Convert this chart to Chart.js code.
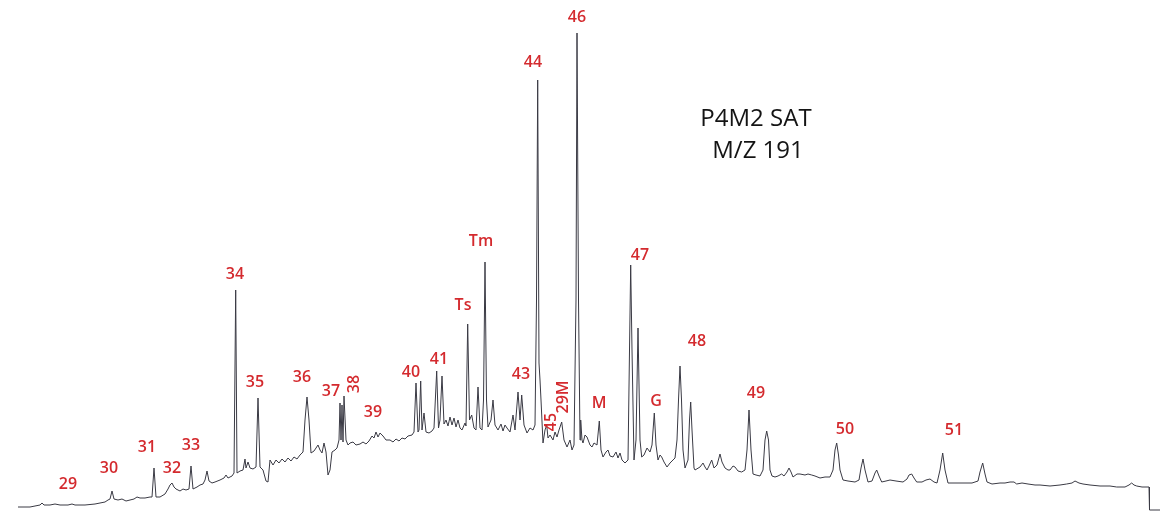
<!DOCTYPE html>
<html lang="en">
<head>
    <meta charset="UTF-8">
    <title>P4M2 SAT - M/Z 191</title>
    <script src="https://cdn.jsdelivr.net/npm/chart.js"></script>
    <style>
        body { margin: 0; background: #fff; }
        #wrap { width: 1165px; height: 512px; }
    </style>
</head>
<body>
    <div id="wrap">
        <canvas id="chrom" width="1165" height="512"></canvas>
    </div>

    <script>
        // Trace: retention position and detector response
        const retention = [
            18, 30, 40, 42, 44, 50, 55, 60, 68, 72, 75, 85, 95, 100, 105, 108, 110, 112, 114, 118,
            122, 126, 130, 134, 137, 140, 145, 150, 152, 154, 156, 160, 165, 168, 170, 172, 174, 176, 178, 180,
            183, 186, 189, 191, 193, 197, 200, 203, 205, 207, 209, 212, 215, 220, 224, 226, 228, 232, 234, 235.7,
            237, 240, 243, 245, 246, 248, 250, 253, 256, 258, 260, 263, 266, 268, 270, 273, 276, 279, 282, 285,
            288, 291, 294, 297, 300, 303, 305, 307, 309, 311, 314, 316, 318, 320, 322, 324, 326, 328, 330, 332,
            335, 337, 339, 340, 341, 342, 343, 344, 346, 348, 350, 353, 356, 360, 363, 366, 369, 372, 374, 376,
            378, 380, 383, 386, 390, 393, 396, 399, 402, 405, 408, 412, 414, 416, 418, 419, 420.7, 422, 424, 426,
            429, 432, 434, 436.7, 438.5, 440, 442, 444, 446, 448, 450, 452, 454, 456, 458, 460, 462, 465, 466, 467.7,
            469.5, 471.7, 474, 476, 478, 480, 482, 483.5, 485, 486.5, 488, 491, 493, 495, 498, 501, 503, 505, 507, 510,
            513, 515, 518, 520, 521.7, 524, 527, 530, 533, 535, 536.5, 537.7, 539, 540, 541, 543, 545, 546.7, 548, 550,
            553, 555, 557, 559, 561.7, 564, 567, 570, 572, 574, 576, 577, 578.5, 580, 580.7, 582, 583, 585, 587, 590,
            592, 594, 597, 599.3, 601, 603, 606, 608, 610, 613, 616, 618, 620, 622, 625, 628, 629.5, 630.7, 632, 634,
            636, 638, 640, 641.7, 644, 647, 650, 652, 654.3, 656, 658, 660, 661.7, 664, 667, 670, 673, 675, 677, 678.5,
            680, 681.5, 683, 685, 688, 689.5, 690.7, 692, 694, 695, 700, 703, 705, 707, 709, 711.7, 714, 717, 720, 722,
            725, 728, 730, 733, 735, 738, 741.7, 745, 747, 749, 751, 753, 756, 760, 763, 765, 766.7, 768.5, 770, 772,
            775, 778, 781.7, 784, 787, 789, 791, 793, 797, 800, 805, 808, 811.7, 815, 820, 825, 830, 833, 835, 836.7,
            838.5, 840, 843, 848, 855, 859, 861, 863, 865, 868, 872, 875, 876.7, 879, 881.7, 886, 890, 896, 903, 907,
            909, 911.7, 914, 916.7, 922, 926, 930, 934, 937, 940, 942.7, 945, 948, 955, 965, 972, 978, 980, 982.7, 985,
            987, 992, 1000, 1005, 1010, 1014, 1016.7, 1022, 1028, 1035, 1040, 1050, 1060, 1066.7, 1072, 1075, 1079, 1083, 1090, 1100,
            1110, 1116.7, 1125, 1129, 1131.7, 1134, 1136.7, 1142, 1149, 1149.5, 1160
        ];
        const response = [
            5, 5, 7, 9, 7, 7, 8, 7, 7, 8, 7, 7, 8, 9, 10, 12, 13, 21, 13, 12,
            13, 11, 12, 13, 15, 14, 14, 15, 15, 44, 15, 15, 18, 23, 27, 29, 25, 23, 22, 21,
            23, 22, 23, 46, 23, 25, 27, 28, 32, 41, 31, 29, 30, 32, 34, 37, 34, 36, 39, 222,
            39, 41, 42, 53, 44, 50, 44, 43, 45, 114, 45, 42, 31, 30, 52, 47, 52, 49, 53, 50,
            54, 51, 55, 53, 57, 60, 92, 115, 92, 59, 61, 64, 67, 62, 59, 69, 60, 37, 42, 60,
            62, 64, 72, 109, 72, 107, 70, 116, 72, 67, 69, 70, 67, 68, 70, 68, 71, 76, 74, 80,
            75, 79, 76, 72, 72, 70, 73, 71, 74, 73, 76, 77, 80, 129, 80, 82, 131, 82, 99, 80,
            79, 81, 84, 141, 84, 92, 136, 88, 92, 86, 95, 87, 94, 85, 92, 84, 82, 89, 86, 188,
            92, 97, 84, 82, 125, 84, 82, 112, 250, 112, 85, 92, 112, 87, 82, 88, 81, 87, 84, 80,
            97, 82, 120, 92, 117, 87, 79, 84, 82, 87, 212, 432, 149, 132, 112, 69, 82, 87, 74, 77,
            72, 80, 75, 82, 90, 72, 65, 72, 62, 67, 212, 479, 212, 72, 92, 72, 69, 77, 75, 67,
            65, 69, 67, 91, 62, 55, 60, 62, 56, 55, 60, 54, 59, 52, 49, 52, 162, 247, 162, 52,
            72, 184, 72, 55, 57, 64, 60, 67, 99, 67, 52, 57, 55, 50, 45, 49, 52, 54, 72, 112,
            146, 112, 62, 44, 52, 92, 110, 82, 44, 42, 45, 49, 45, 42, 46, 52, 44, 47, 58, 50,
            44, 42, 42, 46, 45, 41, 40, 42, 62, 102, 62, 38, 37, 36, 42, 72, 81, 72, 42, 36,
            35, 36, 38, 36, 40, 44, 40, 35, 38, 38, 37, 38, 37, 36, 34, 35, 35, 42, 62, 69,
            57, 42, 32, 31, 30, 32, 44, 53, 42, 30, 31, 39, 42, 36, 30, 31, 32, 31, 30, 33,
            37, 38, 34, 30, 30, 32, 33, 30, 29, 42, 59, 42, 29, 29, 29, 29, 31, 40, 49, 38,
            30, 28, 29, 29, 30, 30, 28, 29, 28, 27, 27, 26, 27, 28, 29, 31, 29, 28, 27, 26,
            26, 25, 25, 27, 29, 27, 26, 25, 25, 2, 2
        ];

        // Peak labels: name, retention, height of the label, rotation (degrees)
        const peakNames  = ['29', '30', '31', '32', '33', '34', '35', '36', '37', '38', '39', '40', '41', 'Ts', 'Tm',
                            '43', '44', '45', '29M', '46', 'M', '47', 'G', '48', '49', '50', '51'];
        const peakRt     = [68, 109, 147, 172, 191, 235, 255, 302, 331, 354, 373, 411, 439, 463, 481,
                            521, 533, 551, 563, 577, 599, 640, 656, 697, 756, 845, 954];
        const peakLabelH = [28, 44, 65, 44, 67, 238, 130, 135, 121, 128, 100, 140, 153, 207, 271,
                            138, 450, 90, 115, 495, 109, 257, 111, 171, 119, 83, 82];
        const peakAngle  = [0, 0, 0, 0, 0, 0, 0, 0, 0, -90, 0, 0, 0, 0, 0,
                            0, 0, -90, -90, 0, 0, 0, 0, 0, 0, 0, 0];

        const titleLines = ['P4M2 SAT', 'M/Z 191'];

        // Draw peak names and the sample title on top of the trace
        const labelPlugin = {
            id: 'peakLabels',
            afterDatasetsDraw(chart) {
                const ctx = chart.ctx;
                const xs = chart.scales.x;
                const ys = chart.scales.y;
                ctx.save();
                ctx.fillStyle = '#d42a2e';
                ctx.font = '600 16px "Open Sans", sans-serif';
                ctx.textAlign = 'center';
                ctx.textBaseline = 'middle';
                peakNames.forEach((name, i) => {
                    const px = xs.getPixelForValue(peakRt[i]);
                    const py = ys.getPixelForValue(peakLabelH[i]);
                    ctx.save();
                    ctx.translate(px, py);
                    ctx.rotate(peakAngle[i] * Math.PI / 180);
                    ctx.fillText(name, 0, 0);
                    ctx.restore();
                });

                ctx.fillStyle = '#141414';
                ctx.font = '24px "Open Sans", sans-serif';
                ctx.fillText(titleLines[0], 756, 119);
                ctx.fillText(titleLines[1], 758, 151);
                ctx.restore();
            }
        };

        new Chart(document.getElementById('chrom'), {
            type: 'line',
            data: {
                datasets: [{
                    label: 'M/Z 191',
                    data: retention.map((rt, i) => ({ x: rt, y: response[i] })),
                    borderColor: '#3a3a44',
                    borderWidth: 1,
                    pointRadius: 0,
                    tension: 0,
                    fill: false
                }]
            },
            options: {
                responsive: false,
                animation: false,
                devicePixelRatio: 1,
                layout: { padding: 0 },
                plugins: {
                    legend: { display: false },
                    tooltip: { enabled: false },
                    title: { display: false }
                },
                scales: {
                    x: { type: 'linear', min: 0, max: 1165, display: false },
                    y: { min: 0, max: 512, display: false }
                }
            },
            plugins: [labelPlugin]
        });
    </script>
</body>
</html>
